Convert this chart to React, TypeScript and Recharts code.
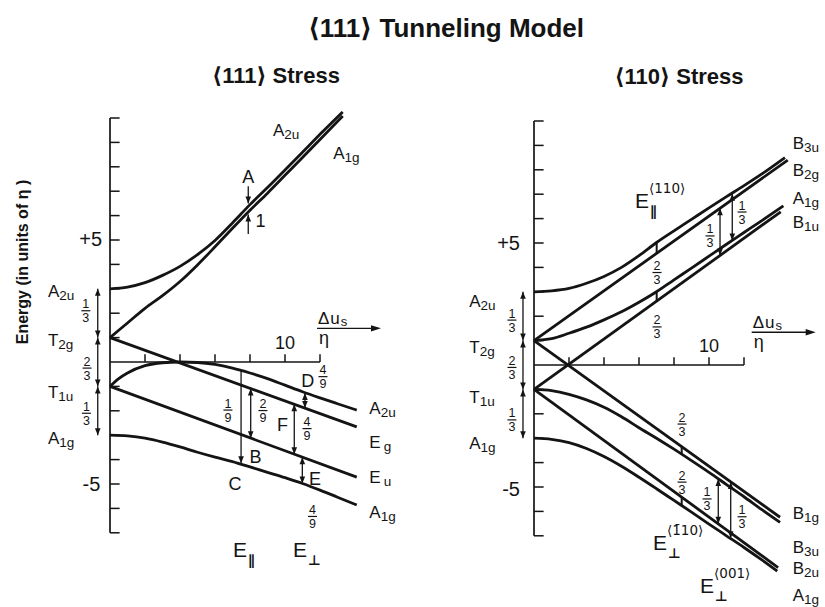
import React from 'react';
import { ComposedChart, Line, XAxis, YAxis, ReferenceLine, ReferenceDot } from 'recharts';

const FONT = "'Liberation Sans', 'DejaVu Sans', Arial, sans-serif";
const SYMFONT = "'DejaVu Sans', 'Liberation Sans', sans-serif";
const INK = '#141414';

// ---------- axes (shared) ----------
const yTicks = [-7, -6, -5, -4, -3, -2, -1, 1, 2, 3, 4, 5, 6, 7, 8, 9, 10];
const xTicks = [2, 4, 6, 8, 10, 12];
const yAxisRange = [-7, 10];
const xAxisEnd = 12;

// ---------- LEFT PANEL: <111> stress ----------
const lUpperX = [0, 1, 2, 3, 4, 5, 6, 7, 8, 9, 10, 11, 12, 13.3];
const lA2uUpper = [3.0, 3.07, 3.25, 3.55, 3.92, 4.4, 4.98, 5.7, 6.45, 7.15, 7.87, 8.6, 9.33, 10.25];
const lA1gUpper = [1.0, 1.6, 2.2, 2.72, 3.3, 3.98, 4.72, 5.48, 6.22, 6.92, 7.65, 8.38, 9.12, 10.08];
const lHumpX = [0, 0.5, 1, 2, 3, 4, 5, 6, 7, 8, 9, 10, 11, 12, 13, 14.1];
const lA2uLower = [-1.0, -0.68, -0.45, -0.15, -0.03, 0, -0.02, -0.1, -0.25, -0.45, -0.68, -0.95, -1.22, -1.47, -1.71, -1.97];
const lEgX = [0, 14.1];
const lEg = [1.0, -2.66];
const lEuX = [0, 14.1];
const lEu = [-1.0, -4.72];
const lA1gLowerX = [0, 1, 2, 3, 4, 5, 6, 7, 8, 9, 10, 11, 12, 13, 14.1];
const lA1gLower = [-3.0, -3.03, -3.12, -3.28, -3.48, -3.7, -3.9, -4.08, -4.3, -4.52, -4.74, -4.98, -5.25, -5.54, -5.86];

// ---------- RIGHT PANEL: <110> stress ----------
const rX15 = [0, 1, 2, 3, 4, 5, 6, 7, 8, 9, 10, 11, 12, 13];
const rB3uUpperX = [...rX15, 14.34];
const rB3uUpper = [3.0, 3.04, 3.14, 3.35, 3.63, 4.0, 4.48, 5.02, 5.5, 5.97, 6.44, 6.9, 7.35, 7.82, 8.5];
const rB2gX = [0, 14.5];
const rB2g = [1.0, 8.4];
const rA1gUpperX = [...rX15, 14.25];
const rA1gUpper = [1.0, 1.08, 1.3, 1.55, 1.85, 2.18, 2.57, 3.0, 3.49, 3.97, 4.46, 4.95, 5.43, 5.91, 6.52];
const rB1uX = [0, 14.1];
const rB1u = [-1.0, 6.28];
const rB1gX = [0, 14.06];
const rB1g = [1.0, -6.24];
const rB3uLowerX = [...rX15, 14.06];
const rB3uLower = [-1.0, -1.05, -1.2, -1.43, -1.73, -2.12, -2.57, -3.0, -3.45, -3.92, -4.4, -4.9, -5.4, -5.92, -6.45];
const rB2uX = [0, 13.95];
const rB2u = [-1.0, -8.3];
const rA1gLowerX = [...rX15, 13.9];
const rA1gLower = [-3.0, -3.05, -3.18, -3.42, -3.75, -4.15, -4.6, -5.07, -5.55, -6.03, -6.52, -7.0, -7.48, -7.98, -8.45];

// ---------- annotations ----------
type Arrow = { x: number; from: number; to: number; heads: 'both' | 'end' | 'none' };
type Species = { x: number; y: number; t: string; s: string };
type Letter = { x: number; y: number; t: string };
type Frac = { x: number; y: number; n: string; d: string };
type ELabel = { x: number; y: number; sub: string; sup?: string };
type Num = { x: number; y: number; t: string; anchor: 'end' | 'middle' };

const lArrows: Arrow[] = [
  { x: -0.7, from: 3, to: 1, heads: 'both' },
  { x: -0.7, from: 1, to: -1, heads: 'both' },
  { x: -0.7, from: -1, to: -3, heads: 'both' },
  { x: 7.9, from: 7.2, to: 6.5, heads: 'end' },
  { x: 7.9, from: 5.25, to: 6.05, heads: 'end' },
  { x: 7.49, from: -0.35, to: -4.15, heads: 'end' },
  { x: 8.04, from: -1.09, to: -3.12, heads: 'both' },
  { x: 11.14, from: -1.27, to: -1.89, heads: 'both' },
  { x: 10.53, from: -1.73, to: -3.78, heads: 'both' },
  { x: 10.99, from: -3.9, to: -4.98, heads: 'both' },
];
const rArrows: Arrow[] = [
  { x: -0.63, from: 3, to: 1, heads: 'both' },
  { x: -0.63, from: 1, to: -1, heads: 'both' },
  { x: -0.63, from: -1, to: -3, heads: 'both' },
  { x: 10.63, from: 6.42, to: 4.49, heads: 'both' },
  { x: 11.33, from: 7.02, to: 5.1, heads: 'both' },
  { x: 10.53, from: -4.67, to: -6.51, heads: 'both' },
  { x: 11.24, from: -4.79, to: -7.1, heads: 'both' },
  { x: 7.01, from: 5.02, to: 4.58, heads: 'none' },
  { x: 7.01, from: 3.0, to: 2.62, heads: 'none' },
  { x: 8.44, from: -3.35, to: -3.66, heads: 'none' },
  { x: 8.44, from: -5.42, to: -5.76, heads: 'none' },
];

const lSpecies: Species[] = [
  { x: -3.55, y: 2.92, t: 'A', s: '2u' },
  { x: -3.55, y: 0.92, t: 'T', s: '2g' },
  { x: -3.55, y: -1.22, t: 'T', s: '1u' },
  { x: -3.55, y: -3.1, t: 'A', s: '1g' },
  { x: 9.31, y: 9.5, t: 'A', s: '2u' },
  { x: 12.75, y: 8.55, t: 'A', s: '1g' },
  { x: 14.82, y: -1.89, t: 'A', s: '2u' },
  { x: 14.82, y: -3.26, t: 'E', s: 'g' },
  { x: 14.82, y: -4.7, t: 'E', s: 'u' },
  { x: 14.82, y: -6.13, t: 'A', s: '1g' },
];
const rSpecies: Species[] = [
  { x: -3.7, y: 2.64, t: 'A', s: '2u' },
  { x: -3.7, y: 0.72, t: 'T', s: '2g' },
  { x: -3.7, y: -1.33, t: 'T', s: '1u' },
  { x: -3.7, y: -3.2, t: 'A', s: '1g' },
  { x: 14.78, y: 9.08, t: 'B', s: '3u' },
  { x: 14.78, y: 7.99, t: 'B', s: '2g' },
  { x: 14.78, y: 6.84, t: 'A', s: '1g' },
  { x: 14.78, y: 5.87, t: 'B', s: '1u' },
  { x: 14.78, y: -6.07, t: 'B', s: '1g' },
  { x: 14.78, y: -7.46, t: 'B', s: '3u' },
  { x: 14.78, y: -8.32, t: 'B', s: '2u' },
  { x: 14.78, y: -9.43, t: 'A', s: '1g' },
];

const lLetters: Letter[] = [
  { x: 7.9, y: 7.62, t: 'A' },
  { x: 8.6, y: 5.78, t: '1' },
  { x: 8.31, y: -3.87, t: 'B' },
  { x: 7.14, y: -4.98, t: 'C' },
  { x: 11.3, y: -0.74, t: 'D' },
  { x: 9.86, y: -2.58, t: 'F' },
  { x: 11.71, y: -4.77, t: 'E' },
];

const lFracs: Frac[] = [
  { x: -1.38, y: 2.1, n: '1', d: '3' },
  { x: -1.31, y: -0.25, n: '2', d: '3' },
  { x: -1.35, y: -2.1, n: '1', d: '3' },
  { x: 6.74, y: -1.97, n: '1', d: '9' },
  { x: 8.74, y: -1.99, n: '2', d: '9' },
  { x: 12.17, y: -0.6, n: '4', d: '9' },
  { x: 11.26, y: -2.73, n: '4', d: '9' },
  { x: 11.57, y: -6.33, n: '4', d: '9' },
];
const rFracs: Frac[] = [
  { x: -1.26, y: 1.84, n: '1', d: '3' },
  { x: -1.26, y: -0.1, n: '2', d: '3' },
  { x: -1.26, y: -2.25, n: '1', d: '3' },
  { x: 7.03, y: 3.79, n: '2', d: '3' },
  { x: 7.03, y: 1.56, n: '2', d: '3' },
  { x: 10.06, y: 5.29, n: '1', d: '3' },
  { x: 11.89, y: 6.27, n: '1', d: '3' },
  { x: 8.46, y: -2.42, n: '2', d: '3' },
  { x: 8.46, y: -4.8, n: '2', d: '3' },
  { x: 9.89, y: -5.49, n: '1', d: '3' },
  { x: 11.89, y: -6.22, n: '1', d: '3' },
];

const lELabels: ELabel[] = [
  { x: 7.03, y: -7.7, sub: '∥' },
  { x: 10.46, y: -7.7, sub: '⊥' },
];
const rELabels: ELabel[] = [
  { x: 5.77, y: 6.76, sub: '∥', sup: '⟨110⟩' },
  { x: 6.8, y: -7.27, sub: '⊥', sup: '⟨1̄10⟩' },
  { x: 9.49, y: -9.02, sub: '⊥', sup: '⟨001⟩' },
];

const lNums: Num[] = [
  { x: -0.45, y: 5.04, t: '+5', anchor: 'end' },
  { x: -0.55, y: -5.0, t: '-5', anchor: 'end' },
  { x: 10, y: 0.84, t: '10', anchor: 'middle' },
];
const rNums: Num[] = [
  { x: -0.8, y: 5.02, t: '+5', anchor: 'end' },
  { x: -0.8, y: -5.1, t: '-5', anchor: 'end' },
  { x: 10, y: 0.8, t: '10', anchor: 'middle' },
];
const lDus = { x: 11.83, y: 1.38 };
const rDus = { x: 12.44, y: 1.34 };

const titleMain = '⟨111⟩ Tunneling Model';
const titleLeft = '⟨111⟩ Stress';
const titleRight = '⟨110⟩ Stress';
const yLabel = 'Energy (in units of η )';

// ---------- helpers ----------
type Series = { xs: number[]; ys: number[]; curve: 'monotone' | 'linear' };
const toPts = (xs: number[], ys: number[]) => xs.map((x, i) => ({ x, y: ys[i] }));

const lSeries: Series[] = [
  { xs: lUpperX, ys: lA2uUpper, curve: 'monotone' },
  { xs: lUpperX, ys: lA1gUpper, curve: 'monotone' },
  { xs: lHumpX, ys: lA2uLower, curve: 'monotone' },
  { xs: lEgX, ys: lEg, curve: 'linear' },
  { xs: lEuX, ys: lEu, curve: 'linear' },
  { xs: lA1gLowerX, ys: lA1gLower, curve: 'monotone' },
];
const rSeries: Series[] = [
  { xs: rB3uUpperX, ys: rB3uUpper, curve: 'monotone' },
  { xs: rB2gX, ys: rB2g, curve: 'linear' },
  { xs: rA1gUpperX, ys: rA1gUpper, curve: 'monotone' },
  { xs: rB1uX, ys: rB1u, curve: 'linear' },
  { xs: rB1gX, ys: rB1g, curve: 'linear' },
  { xs: rB3uLowerX, ys: rB3uLower, curve: 'monotone' },
  { xs: rB2uX, ys: rB2u, curve: 'linear' },
  { xs: rA1gLowerX, ys: rA1gLower, curve: 'monotone' },
];

const arrowShape = (heads: Arrow['heads']) => (p: any) => {
  const { x1, y1, x2, y2 } = p;
  const head = (tx: number, ty: number, fy: number, k: string) => {
    const dir = ty - fy >= 0 ? 1 : -1;
    const L = 7;
    const W = 2.8;
    return <path key={k} d={`M${tx},${ty} L${tx - W},${ty - dir * L} L${tx + W},${ty - dir * L} Z`} fill={INK} />;
  };
  return (
    <g>
      <line x1={x1} y1={y1} x2={x2} y2={y2} stroke={INK} strokeWidth={heads === 'none' ? 2 : 1.3} />
      {heads !== 'none' && head(x2, y2, y1, 'h2')}
      {heads === 'both' && head(x1, y1, y2, 'h1')}
    </g>
  );
};

const speciesShape = (a: Species) => (p: any) => (
  <text x={p.cx} y={p.cy + 6} fontSize={17} fontFamily={FONT} fill={INK}>
    {a.t}
    <tspan fontSize={13.5} dy={3} dx={a.t === 'E' ? 3 : 0}>{a.s}</tspan>
  </text>
);

const letterShape = (a: Letter) => (p: any) => (
  <text x={p.cx} y={p.cy + 6.5} fontSize={18} fontFamily={FONT} fill={INK} textAnchor="middle">{a.t}</text>
);

const fracShape = (a: Frac) => (p: any) => (
  <g fontFamily={FONT} fill={INK}>
    <text x={p.cx} y={p.cy - 2.5} fontSize={12.5} textAnchor="middle">{a.n}</text>
    <line x1={p.cx - 4.5} y1={p.cy} x2={p.cx + 4.5} y2={p.cy} stroke={INK} strokeWidth={1.2} />
    <text x={p.cx} y={p.cy + 11.5} fontSize={12.5} textAnchor="middle">{a.d}</text>
  </g>
);

const eShape = (a: ELabel) => (p: any) => {
  const fs = 21;
  const base = p.cy + 7.5;
  const w = 15;
  return (
    <g fill={INK}>
      <text x={p.cx} y={base} fontSize={fs} fontFamily={FONT} fill={INK}>E</text>
      <text x={p.cx + w} y={base + 8} fontSize={14} fontWeight="bold" fontFamily={SYMFONT} fill={INK}>{a.sub}</text>
      {a.sup && (
        <text x={p.cx + w - 1} y={base - 15} fontSize={13.5} fontFamily={SYMFONT} fill={INK}>{a.sup}</text>
      )}
    </g>
  );
};

const numShape = (a: Num) => (p: any) => (
  <text x={p.cx} y={p.cy + 7} fontSize={a.t === '10' ? 18 : 20} fontFamily={FONT} fill={INK} textAnchor={a.anchor}>{a.t}</text>
);

const dusShape = (p: any) => {
  const { cx, cy } = p;
  return (
    <g fontFamily={FONT} fill={INK}>
      <text x={cx + 1} y={cy - 4} fontSize={17} letterSpacing={1}>Δu<tspan fontSize={13} dy={2}>s</tspan></text>
      <line x1={cx} y1={cy} x2={cx + 57} y2={cy} stroke={INK} strokeWidth={1.4} />
      <path d={`M${cx + 64},${cy} L${cx + 54},${cy - 3.2} L${cx + 54},${cy + 3.2} Z`} fill={INK} />
      <text x={cx + 2} y={cy + 16} fontSize={18}>η</text>
    </g>
  );
};

type PanelProps = {
  width: number;
  height: number;
  margin: { top: number; right: number; bottom: number; left: number };
  xDomain: [number, number];
  yDomain: [number, number];
  series: Series[];
  arrows: Arrow[];
  species: Species[];
  letters: Letter[];
  fracs: Frac[];
  eLabels: ELabel[];
  nums: Num[];
  dus: { x: number; y: number };
};

const Panel = (props: PanelProps) => {
  const { width, height, margin, xDomain, yDomain, series, arrows, species, letters, fracs, eLabels, nums, dus } = props;
  return (
    <ComposedChart width={width} height={height} margin={margin}>
      <XAxis type="number" dataKey="x" domain={xDomain} hide allowDataOverflow />
      <YAxis type="number" dataKey="y" domain={yDomain} hide allowDataOverflow />
      <ReferenceLine
        segment={[{ x: 0, y: yAxisRange[0] }, { x: 0, y: yAxisRange[1] }]}
        stroke={INK}
        strokeWidth={1.7}
        ifOverflow="visible"
      />
      <ReferenceLine
        segment={[{ x: 0, y: 0 }, { x: xAxisEnd, y: 0 }]}
        stroke={INK}
        strokeWidth={1.5}
        ifOverflow="visible"
      />
      {yTicks.map((t) => (
        <ReferenceLine key={`yt${t}`} segment={[{ x: 0, y: t }, { x: 0.55, y: t }]} stroke={INK} strokeWidth={1.5} ifOverflow="visible" />
      ))}
      {xTicks.map((t) => (
        <ReferenceLine key={`xt${t}`} segment={[{ x: t, y: 0 }, { x: t, y: 0.32 }]} stroke={INK} strokeWidth={1.5} ifOverflow="visible" />
      ))}
      {series.map((s, i) => (
        <Line
          key={`s${i}`}
          data={toPts(s.xs, s.ys)}
          dataKey="y"
          type={s.curve}
          stroke={INK}
          strokeWidth={2.8}
          dot={false}
          activeDot={false}
          isAnimationActive={false}
        />
      ))}
      {arrows.map((a, i) => (
        <ReferenceLine
          key={`a${i}`}
          segment={[{ x: a.x, y: a.from }, { x: a.x, y: a.to }]}
          shape={arrowShape(a.heads)}
          ifOverflow="visible"
        />
      ))}
      {species.map((a, i) => (
        <ReferenceDot key={`sp${i}`} x={a.x} y={a.y} r={0} shape={speciesShape(a)} ifOverflow="visible" />
      ))}
      {letters.map((a, i) => (
        <ReferenceDot key={`lt${i}`} x={a.x} y={a.y} r={0} shape={letterShape(a)} ifOverflow="visible" />
      ))}
      {fracs.map((a, i) => (
        <ReferenceDot key={`fr${i}`} x={a.x} y={a.y} r={0} shape={fracShape(a)} ifOverflow="visible" />
      ))}
      {eLabels.map((a, i) => (
        <ReferenceDot key={`el${i}`} x={a.x} y={a.y} r={0} shape={eShape(a)} ifOverflow="visible" />
      ))}
      {nums.map((a, i) => (
        <ReferenceDot key={`nm${i}`} x={a.x} y={a.y} r={0} shape={numShape(a)} ifOverflow="visible" />
      ))}
      <ReferenceDot x={dus.x} y={dus.y} r={0} shape={dusShape} ifOverflow="visible" />
    </ComposedChart>
  );
};

export default function App() {
  return (
    <div style={{ position: 'absolute', left: 0, top: 0, width: 825, height: 607, background: '#fff', overflow: 'hidden' }}>
      <svg width={825} height={607} style={{ position: 'absolute', left: 0, top: 0 }}>
        <text x={446} y={37} textAnchor="middle" fontSize={26} fontWeight="bold" fontFamily={FONT} fill={INK}>{titleMain}</text>
        <text x={276} y={83} textAnchor="middle" fontSize={22} fontWeight="bold" fontFamily={FONT} fill={INK}>{titleLeft}</text>
        <text x={679} y={84} textAnchor="middle" fontSize={22} fontWeight="bold" fontFamily={FONT} fill={INK}>{titleRight}</text>
        <text transform="translate(28,262) rotate(-90)" textAnchor="middle" fontSize={16} fontWeight="bold" fontFamily={FONT} fill={INK}>{yLabel}</text>
      </svg>
      <div style={{ position: 'absolute', left: 0, top: 0 }}>
        <Panel
          width={412}
          height={607}
          margin={{ top: 93.6, right: 4.5, bottom: 1, left: 5 }}
          xDomain={[-6, 17]}
          yDomain={[-10, 11]}
          series={lSeries}
          arrows={lArrows}
          species={lSpecies}
          letters={lLetters}
          fracs={lFracs}
          eLabels={lELabels}
          nums={lNums}
          dus={lDus}
        />
      </div>
      <div style={{ position: 'absolute', left: 412, top: 0 }}>
        <Panel
          width={413}
          height={607}
          margin={{ top: 96.6, right: 2.25, bottom: 0.44, left: 17 }}
          xDomain={[-6, 16.5]}
          yDomain={[-9.9, 11]}
          series={rSeries}
          arrows={rArrows}
          species={rSpecies}
          letters={[]}
          fracs={rFracs}
          eLabels={rELabels}
          nums={rNums}
          dus={rDus}
        />
      </div>
    </div>
  );
}
